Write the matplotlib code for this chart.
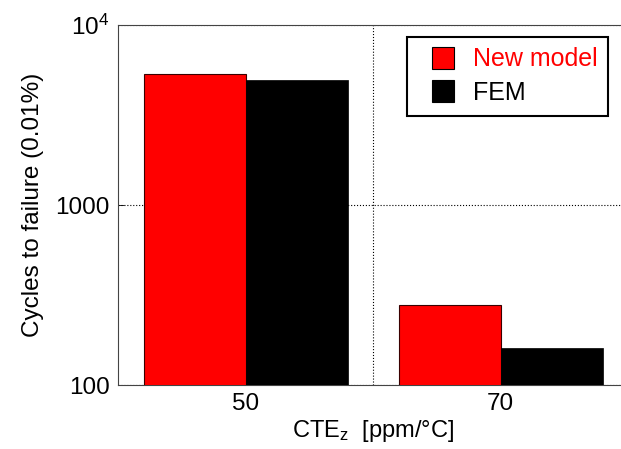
import matplotlib
matplotlib.use("Agg")
import matplotlib.pyplot as plt
from matplotlib.lines import Line2D
import numpy as np

plt.rcParams.update({"font.family": "Liberation Sans", "mathtext.fontset": "custom",
                     "mathtext.rm": "Liberation Sans", "mathtext.it": "Liberation Sans:italic"})

# data
cte = [50, 70]
new_model = [5350, 278]
fem = [4950, 160]
yticks = [100, 1000, 10000]
yticklabels = ["100", "1000", r"$\mathregular{10^4}$"]

W = 8
fig = plt.figure(figsize=(6.21, 4.49), dpi=100)
ax = fig.add_axes([118 / 621, 64 / 449, 510 / 621, 360 / 449])
x = np.array(cte)
ax.bar(x - W / 2, new_model, width=W, color="#ff0000", edgecolor="#3a0000", linewidth=0.8, zorder=3)
ax.bar(x + W / 2, fem, width=W, color="black", edgecolor="black", linewidth=0.5, zorder=3)

ax.set_yscale("log")
ax.set_ylim(100, 10000)
ax.set_xlim(40, 80)
ax.set_yticks(yticks)
ax.set_yticklabels(yticklabels)
ax.yaxis.set_minor_locator(matplotlib.ticker.NullLocator())
ax.set_xticks(cte)
ax.set_xticklabels([str(c) for c in cte])
ax.tick_params(direction="in", length=4, width=0.6, labelsize=17.5, pad=6)

# dotted grid: horizontal at decades, vertical only between the groups
ax.yaxis.grid(True, which="major", linestyle=":", color="black", linewidth=0.8, zorder=0)
ax.axvline(np.mean(cte), linestyle=":", color="black", linewidth=0.8, zorder=0)
for sp in ax.spines.values():
    sp.set_color("#444444"); sp.set_linewidth(0.8)

ax.set_ylabel("Cycles to failure (0.01%)", fontsize=17.5, labelpad=8)
ax.set_xlabel(r"CTE$_{\mathrm{z}}$  [ppm/°C]", fontsize=17, labelpad=2)

handles = [Line2D([], [], linestyle="none", marker="s", markersize=15.5, markerfacecolor="#ff0000",
                  markeredgecolor="black", markeredgewidth=0.8),
           Line2D([], [], linestyle="none", marker="s", markersize=15.5, markerfacecolor="black",
                  markeredgecolor="black", markeredgewidth=0.8)]
leg = ax.legend(handles, ["New model", "FEM"], loc="upper right",
                bbox_to_anchor=((608 - 118) / 510, 1 - 12 / 360),
                fontsize=18, fancybox=False, framealpha=1, edgecolor="black",
                handlelength=2.0, handletextpad=0.2, borderpad=0.42,
                labelspacing=0.38, borderaxespad=0)
leg.get_frame().set_linewidth(1.5)
leg.get_texts()[0].set_color("#ff0000")

fig.savefig("out.png", dpi=100)
